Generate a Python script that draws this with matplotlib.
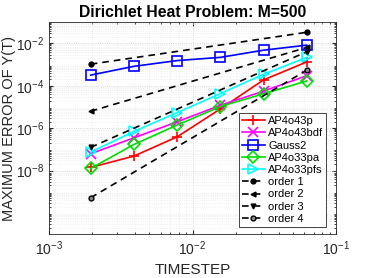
import matplotlib
matplotlib.use("Agg")
import matplotlib.pyplot as plt
from matplotlib.ticker import LogLocator, NullFormatter

plt.rcParams['font.family'] = ['Liberation Sans', 'DejaVu Sans']

# timesteps
h = [1/512, 1/256, 1/128, 1/64, 1/32, 1/16]

# max error per method
err_ap4o43p = [1.4e-8, 4.8e-8, 3.9e-7, 8.1e-6, 1.9e-4, 1.34e-3]
err_ap4o43bdf = [6.2e-8, 3.5e-7, 2.0e-6, 1.2e-5, 5.6e-5, 3.0e-4]
err_gauss2 = [3.2e-4, 8.3e-4, 1.55e-3, 2.2e-3, 4.8e-3, 8.3e-3]
err_ap4o33pa = [1.26e-8, 1.7e-7, 1.4e-6, 1.05e-5, 4.2e-5, 1.7e-4]
err_ap4o33pfs = [7.4e-8, 7.0e-7, 5.4e-6, 4.3e-5, 3.5e-4, 2.2e-3]

# reference slopes
ref_names = ['order 1', 'order 2', 'order 3', 'order 4']
ref_markers = ['o', '<', 'v', 'o']
ref_start = [1.05e-3, 6.3e-6, 1.24e-7, 5.2e-10]
ref_order = [1, 2, 3, 4]

methods = [
    ('AP4o43p', err_ap4o43p, 'red', '+'),
    ('AP4o43bdf', err_ap4o43bdf, 'magenta', 'x'),
    ('Gauss2', err_gauss2, 'blue', 's'),
    ('AP4o33pa', err_ap4o33pa, '#00dd00', 'D'),
    ('AP4o33pfs', err_ap4o33pfs, 'cyan', '>'),
]

fig = plt.figure(figsize=(3.71, 2.78), dpi=100)
ax = fig.add_axes([0.132, 0.158, 0.774, 0.762])

for name, err, col, mk in methods:
    ax.loglog(h, err, color=col, marker=mk, lw=1.2, ms=6.5,
              mfc='none', mew=1.2, label=name)

for name, mk, c0, p in zip(ref_names, ref_markers, ref_start, ref_order):
    ends = [h[0], h[-1]]
    vals = [c0, c0 * (h[-1] / h[0]) ** p]
    mfc = 'black' if p != 4 else '#888888'
    ax.loglog(ends, vals, color='black', ls=(0, (4, 3)), lw=1.2,
              marker=mk, ms=3.5, mfc=mfc, mec='black', label=name)

ax.set_xlim(1e-3, 1e-1)
ax.set_ylim(1e-11, 1e-1)
ax.set_yticks([1e-8, 1e-6, 1e-4, 1e-2])
ax.yaxis.set_minor_locator(LogLocator(base=10, subs=range(2, 10), numticks=30))
ax.yaxis.set_minor_formatter(NullFormatter())
ax.xaxis.set_minor_locator(LogLocator(base=10, subs=range(2, 10), numticks=30))
ax.xaxis.set_minor_formatter(NullFormatter())

ax.grid(True, which='major', color='#cccccc', lw=0.6, ls=':')
ax.grid(True, which='minor', color='#e6e6e6', lw=0.5, ls=':')
ax.tick_params(which='both', direction='in', top=True, right=True,
               labelsize=10, colors='#262626', length=3)
ax.tick_params(which='minor', length=1.5)
for s in ax.spines.values():
    s.set_color('#262626')
    s.set_linewidth(0.6)

ax.set_title('Dirichlet Heat Problem: M=500', fontsize=11.3,
             fontweight='bold', pad=4)
ax.set_xlabel('TIMESTEP', fontsize=11, color='#262626')
ax.set_ylabel('MAXIMUM ERROR OF Y(T)', fontsize=10.5, color='#262626',
              labelpad=0)

leg = ax.legend(loc='lower right', bbox_to_anchor=(0.965, 0.035), fontsize=8,
                handlelength=2.1, handletextpad=0.3, labelspacing=0.2,
                borderpad=0.25, borderaxespad=0, fancybox=False, framealpha=1,
                edgecolor='#262626')
leg.get_frame().set_linewidth(0.6)

fig.savefig('out.png', dpi=100)
